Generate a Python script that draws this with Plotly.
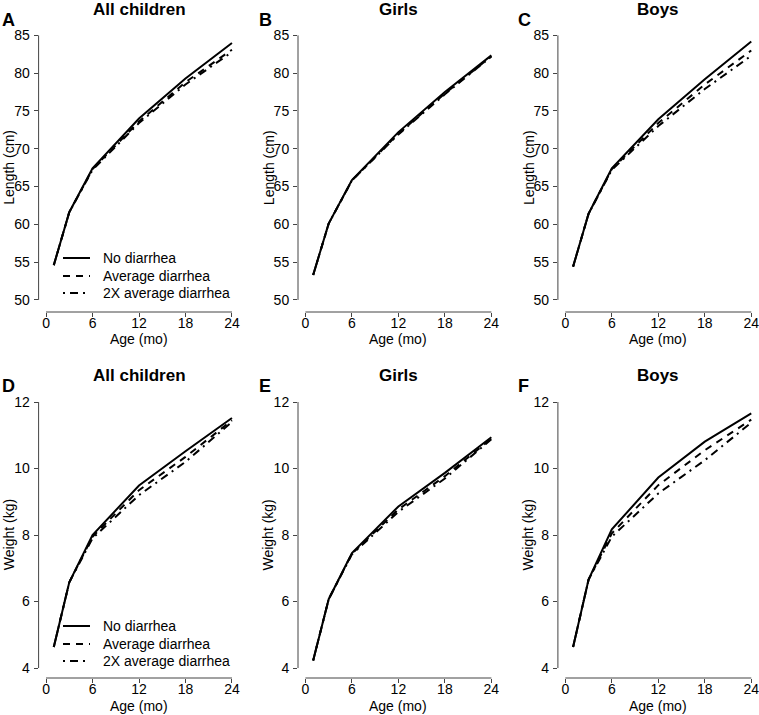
import plotly.graph_objects as go

# ---------------- data ----------------
ages = [1, 3, 6, 12, 18, 24]
series_names = ["No diarrhea", "Average diarrhea", "2X average diarrhea"]

len_all_none = [54.6, 61.6, 67.4, 74.0, 79.3, 84.0]
len_all_avg = [54.6, 61.6, 67.3, 73.6, 78.8, 83.1]
len_all_2x = [54.6, 61.6, 67.2, 73.4, 78.5, 82.8]
len_girls_none = [53.3, 60.1, 65.85, 72.2, 77.5, 82.35]
len_girls_avg = [53.3, 60.1, 65.8, 72.0, 77.3, 82.25]
len_girls_2x = [53.3, 60.1, 65.8, 71.9, 77.2, 82.2]
len_boys_none = [54.4, 61.4, 67.4, 73.9, 79.2, 84.2]
len_boys_avg = [54.4, 61.4, 67.3, 73.4, 78.5, 83.0]
len_boys_2x = [54.4, 61.4, 67.2, 73.0, 77.9, 82.3]

wt_all_none = [4.63, 6.58, 8.0, 9.49, 10.52, 11.52]
wt_all_avg = [4.63, 6.58, 7.95, 9.35, 10.35, 11.45]
wt_all_2x = [4.63, 6.58, 7.9, 9.2, 10.2, 11.4]
wt_girls_none = [4.23, 6.07, 7.46, 8.86, 9.87, 10.94]
wt_girls_avg = [4.23, 6.07, 7.44, 8.77, 9.77, 10.9]
wt_girls_2x = [4.23, 6.07, 7.42, 8.7, 9.7, 10.88]
wt_boys_none = [4.63, 6.66, 8.17, 9.73, 10.81, 11.66]
wt_boys_avg = [4.63, 6.66, 8.05, 9.5, 10.55, 11.47]
wt_boys_2x = [4.63, 6.66, 7.95, 9.25, 10.25, 11.38]

x_ticks = [0, 6, 12, 18, 24]
len_ticks = [50, 55, 60, 65, 70, 75, 80, 85]
wt_ticks = [4, 6, 8, 10, 12]

panels = [
    ("A", "All children", "Length (cm)", [len_all_none, len_all_avg, len_all_2x], len_ticks),
    ("B", "Girls", "Length (cm)", [len_girls_none, len_girls_avg, len_girls_2x], len_ticks),
    ("C", "Boys", "Length (cm)", [len_boys_none, len_boys_avg, len_boys_2x], len_ticks),
    ("D", "All children", "Weight (kg)", [wt_all_none, wt_all_avg, wt_all_2x], wt_ticks),
    ("E", "Girls", "Weight (kg)", [wt_girls_none, wt_girls_avg, wt_girls_2x], wt_ticks),
    ("F", "Boys", "Weight (kg)", [wt_boys_none, wt_boys_avg, wt_boys_2x], wt_ticks),
]

# ---------------- layout geometry (pixels) ----------------
W, H = 759, 715
FONT = "Liberation Sans, Arial, sans-serif"
dashes = ["solid", "7px,6px", "2px,5px,8px,5px"]
XR = [-0.96, 24.96]
PW = 200.8
lefts = [38.6, 298.0, 557.9]
rows = [
    dict(top=24.4, bottom=312.0, yr=[48.4, 86.45]),
    dict(top=391.4, bottom=678.0, yr=[3.70, 12.32]),
]

def px(x):
    return x / W

def py(y):
    return 1 - y / H

fig = go.Figure()
layout = dict(width=W, height=H, margin=dict(l=0, r=0, t=0, b=0),
              paper_bgcolor="white", plot_bgcolor="white", showlegend=False,
              font=dict(family=FONT, color="black", size=14))
shapes = []
annotations = []

for i, (letter, title, ylab, series, yticks) in enumerate(panels):
    r = rows[i // 3]
    left = lefts[i % 3]
    n = i + 1
    xa = "x" if n == 1 else f"x{n}"
    ya = "y" if n == 1 else f"y{n}"
    xkey = "xaxis" if n == 1 else f"xaxis{n}"
    ykey = "yaxis" if n == 1 else f"yaxis{n}"
    layout[xkey] = dict(domain=[px(left), px(left + PW)], range=XR, anchor=ya,
                        tickvals=x_ticks, ticks="outside", ticklen=4, tickwidth=1,
                        tickcolor="#444", showline=False, showgrid=False, zeroline=False,
                        ticklabelstandoff=-6, ticklabeloverflow="allow",
                        tickfont=dict(family=FONT, size=14, color="black"), fixedrange=True)
    layout[ykey] = dict(domain=[py(r["bottom"]), py(r["top"])], range=r["yr"], anchor=xa,
                        tickvals=yticks, ticks="outside", ticklen=4, tickwidth=1,
                        tickcolor="#444", showline=False, showgrid=False, zeroline=False,
                        ticklabelstandoff=1, ticklabeloverflow="allow",
                        tickfont=dict(family=FONT, size=14, color="black"), fixedrange=True)
    # R-style axis lines spanning only the tick range
    yr = r["yr"]
    shapes.append(dict(type="line", xref=f"{xa} domain", yref=f"{ya} domain",
                       x0=0, x1=0,
                       y0=(yticks[0] - yr[0]) / (yr[1] - yr[0]),
                       y1=(yticks[-1] - yr[0]) / (yr[1] - yr[0]),
                       line=dict(color="#444", width=1)))
    shapes.append(dict(type="line", xref=f"{xa} domain", yref=f"{ya} domain",
                       y0=0, y1=0,
                       x0=(x_ticks[0] - XR[0]) / (XR[1] - XR[0]),
                       x1=(x_ticks[-1] - XR[0]) / (XR[1] - XR[0]),
                       line=dict(color="#444", width=1)))
    # series (draw lower ones first)
    for k in [2, 1, 0]:
        fig.add_trace(go.Scatter(x=ages, y=series[k], mode="lines", name=series_names[k],
                                 xaxis=xa, yaxis=ya,
                                 line=dict(color="black", width=2, dash=dashes[k])))
    cx = left + PW / 2
    title_y = 10 if i < 3 else 375
    annotations.append(dict(text=f"<b>{title}</b>", x=px(cx), y=py(title_y), xref="paper", yref="paper",
                            xanchor="center", yanchor="middle", showarrow=False,
                            font=dict(family=FONT, size=17, color="black")))
    letter_x = [0, 257, 516][i % 3]
    letter_y = 20 if i < 3 else 386
    annotations.append(dict(text=f"<b>{letter}</b>", x=px(letter_x), y=py(letter_y), xref="paper", yref="paper",
                            xanchor="left", yanchor="middle", showarrow=False,
                            font=dict(family=FONT, size=18, color="black")))
    xlab_y = 339 if i < 3 else 706
    annotations.append(dict(text="Age (mo)", x=px(cx), y=py(xlab_y), xref="paper", yref="paper",
                            xanchor="center", yanchor="middle", showarrow=False,
                            font=dict(family=FONT, size=14, color="black")))
    # y label
    ymid_val = (yticks[0] + yticks[-1]) / 2
    ymid_px = r["top"] + (yr[1] - ymid_val) / (yr[1] - yr[0]) * (r["bottom"] - r["top"])
    annotations.append(dict(text=ylab, x=px(left - 29.5), y=py(ymid_px), xref="paper", yref="paper",
                            xanchor="center", yanchor="middle", textangle=-90, showarrow=False,
                            font=dict(family=FONT, size=14, color="black")))

    # legends in panels A and D
    if letter in ("A", "D"):
        ys = [258, 276, 293] if letter == "A" else [626, 644, 661]
        for k in range(3):
            shapes.append(dict(type="line", xref="paper", yref="paper",
                               x0=px(63), x1=px(90), y0=py(ys[k]), y1=py(ys[k]),
                               line=dict(color="black", width=2, dash=dashes[k])))
            annotations.append(dict(text=series_names[k], x=px(101), y=py(ys[k]), xref="paper", yref="paper",
                                    xanchor="left", yanchor="middle", showarrow=False,
                                    font=dict(family=FONT, size=14, color="black")))

layout["shapes"] = shapes
layout["annotations"] = annotations
fig.update_layout(**layout)
fig.write_html("out.html", config={"displayModeBar": False, "staticPlot": True},
               post_script="document.body.style.margin='0px';document.body.style.padding='0px';")
